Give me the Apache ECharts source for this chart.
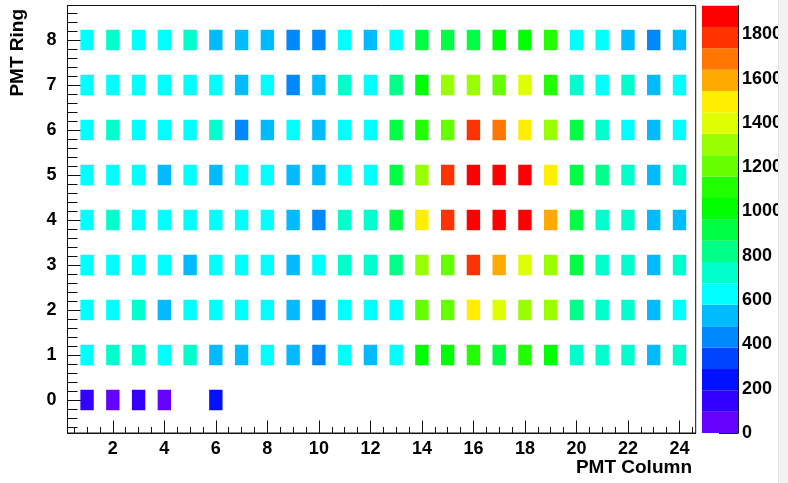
<!DOCTYPE html>
<html>
<head>
<meta charset="utf-8">
<script src="https://cdn.jsdelivr.net/npm/echarts@6/dist/echarts.min.js"></script>
<style>
html,body{margin:0;padding:0;background:#fff;}
#c{width:788px;height:483px;}
#edge{position:absolute;left:778px;top:0;width:10px;height:483px;background:#f2f2f2;border-left:1px solid #e4e4e4;box-sizing:border-box;}
</style>
</head>
<body>
<div id="c"></div>
<div id="edge"></div>
<script>
// ---- data ----
const columns = [1,2,3,4,5,6,7,8,9,10,11,12,13,14,15,16,17,18,19,20,21,22,23,24];
const rings = [0,1,2,3,4,5,6,7,8];
const ring8 = [630,725,630,630,725,530,530,530,435,435,630,530, 630,915,915,915,1010,1010,1110,630,630,530,435,530];
const ring7 = [630,630,630,630,630,630,530,630,435,530,725,630, 820,1010,1300,1300,1205,1400,1110,725,630,725,530,630];
const ring6 = [630,725,630,630,630,725,435,530,630,530,630,630, 915,1110,1205,1785,1690,1495,1300,915,725,630,530,630];
const ring5 = [630,630,630,530,630,530,630,630,530,530,630,630, 915,1300,1785,1880,1880,1880,1495,915,820,725,530,725];
const ring4 = [630,725,630,630,630,630,630,630,530,435,725,725, 915,1495,1785,1880,1880,1880,1590,915,725,725,530,530];
const ring3 = [630,630,630,630,530,630,630,630,530,630,725,725, 820,1300,1205,1785,1590,1400,1300,915,725,725,530,725];
const ring2 = [630,630,725,530,630,630,630,630,530,435,630,630, 630,1205,1205,1495,1400,1300,1300,820,725,725,530,630];
const ring1 = [630,725,725,630,725,530,530,630,530,435,630,530, 630,1010,1010,1110,915,1110,1010,725,725,725,530,725];
const ring0 = [145,50,145,50,null,240,null,null,null,null,null,null, null,null,null,null,null,null,null,null,null,null,null,null];
const ringValues = [ring0, ring1, ring2, ring3, ring4, ring5, ring6, ring7, ring8];

const xTickLabels = [2,4,6,8,10,12,14,16,18,20,22,24];
const yTickLabels = [0,1,2,3,4,5,6,7,8];
const zTickLabels = [0,200,400,600,800,1000,1200,1400,1600,1800];
const zMax = 1930;
const palette = ['#6600ff','#3300ff','#0011ff','#0044ff','#0088ff','#00bbff','#00ffff','#00ffcc','#00ff88','#00ff44',
                 '#00ff00','#22ff00','#66ff00','#99ff00','#ddff00','#ffee00','#ffaa00','#ff7700','#ff3300','#ff0000'];

// ---- derived ----
const cells = [];
rings.forEach((r, ri) => {
  columns.forEach((c, ci) => {
    const v = ringValues[ri][ci];
    if (v != null) cells.push([c, r, v]);
  });
});
const nLev = palette.length;
const bands = palette.map((col, k) => [k * zMax / nLev, (k + 1) * zMax / nLev, (k + 0.5) * zMax / nLev]);
const pieces = palette.map((col, k) => ({gte: k * zMax / nLev, lt: (k + 1) * zMax / nLev + (k === nLev - 1 ? 1 : 0), color: col}));

const xMinor = [], yMinor = [];
for (let i = 1; i <= 49; i++) { const v = i * 0.5; if (xTickLabels.indexOf(v) < 0) xMinor.push(v); }
for (let i = -3; i <= 43; i++) { const v = Math.round(i * 2) / 10; if (Math.abs(v - Math.round(v)) > 1e-6) yMinor.push(v); }

const FONT = '"Liberation Sans", Arial, Helvetica, sans-serif';
const black = '#000';
const lab = {color: black, fontFamily: FONT, fontWeight: 'bold', fontSize: 18, formatter: v => String(v)};
const line = {show: true, onZero: false, lineStyle: {color: '#111', width: 1}};
const noLine = {show: false, onZero: false};

const chart = echarts.init(document.getElementById('c'), null, {renderer: 'canvas'});
chart.setOption({
  animation: false,
  backgroundColor: '#fff',
  grid: [
    {left: 67.5, top: 5.5, width: 628.2, height: 427.5, show: true, borderColor: '#111', borderWidth: 1, backgroundColor: 'transparent'},
    {left: 702, top: 5.5, width: 36, height: 427.5, show: false}
  ],
  visualMap: {type: 'piecewise', show: false, dimension: 2, seriesIndex: [0, 1], pieces: pieces},
  xAxis: [
    {gridIndex: 0, type: 'value', min: 0.24, max: 24.63, position: 'bottom',
     axisLine: line,
     axisTick: {show: true, inside: true, length: 12.5, customValues: xTickLabels, lineStyle: {color: '#111', width: 1}},
     axisLabel: Object.assign({customValues: xTickLabels, margin: 7}, lab),
     splitLine: {show: false}},
    {gridIndex: 0, type: 'value', min: 0.24, max: 24.63, position: 'bottom',
     axisLine: noLine,
     axisTick: {show: true, inside: true, length: 6, customValues: xMinor, lineStyle: {color: '#111', width: 1}},
     axisLabel: {show: false}, splitLine: {show: false}},
    {gridIndex: 1, type: 'value', min: 0, max: 1, show: false, axisLine: noLine}
  ],
  yAxis: [
    {gridIndex: 0, type: 'value', min: -0.733, max: 8.767, position: 'left',
     axisLine: line,
     axisTick: {show: true, inside: true, length: 19.5, customValues: yTickLabels, lineStyle: {color: '#111', width: 1}},
     axisLabel: Object.assign({customValues: yTickLabels, margin: 11}, lab),
     splitLine: {show: false}},
    {gridIndex: 0, type: 'value', min: -0.733, max: 8.767, position: 'left',
     axisLine: noLine,
     axisTick: {show: true, inside: true, length: 10, customValues: yMinor, lineStyle: {color: '#111', width: 1}},
     axisLabel: {show: false}, splitLine: {show: false}},
    {gridIndex: 1, type: 'value', min: 0, max: zMax, position: 'right',
     axisLine: line,
     axisTick: {show: true, inside: true, length: 19, customValues: zTickLabels, lineStyle: {color: '#111', width: 1}},
     axisLabel: Object.assign({customValues: zTickLabels, margin: 4}, lab),
     splitLine: {show: false}}
  ],
  series: [
    {type: 'custom', xAxisIndex: 0, yAxisIndex: 0, data: cells, clip: true,
     renderItem: function (params, api) {
       const c = api.coord([api.value(0), api.value(1)]);
       const s = api.size([0.52, 0.46]);
       return {type: 'rect', shape: {x: c[0] - s[0] / 2, y: c[1] - s[1] / 2, width: s[0], height: s[1]},
               style: {fill: api.visual('color'), stroke: null}};
     }},
    {type: 'custom', xAxisIndex: 2, yAxisIndex: 2, data: bands, clip: true,
     renderItem: function (params, api) {
       const p0 = api.coord([0, api.value(0)]);
       const p1 = api.coord([1, api.value(1)]);
       return {type: 'rect', shape: {x: p0[0], y: p1[1], width: p1[0] - p0[0], height: p0[1] - p1[1]},
               style: {fill: api.visual('color'), stroke: null}};
     }}
  ],
  graphic: [
    {type: 'text', x: 692, y: 468, style: {text: 'PMT Column', fill: black, font: 'bold 19px ' + FONT, align: 'right', verticalAlign: 'middle'}},
    {type: 'text', x: 18, y: 9, rotation: Math.PI / 2, style: {text: 'PMT Ring', fill: black, font: 'bold 19px ' + FONT, align: 'right', verticalAlign: 'middle'}}
  ]
});
</script>
</body>
</html>
